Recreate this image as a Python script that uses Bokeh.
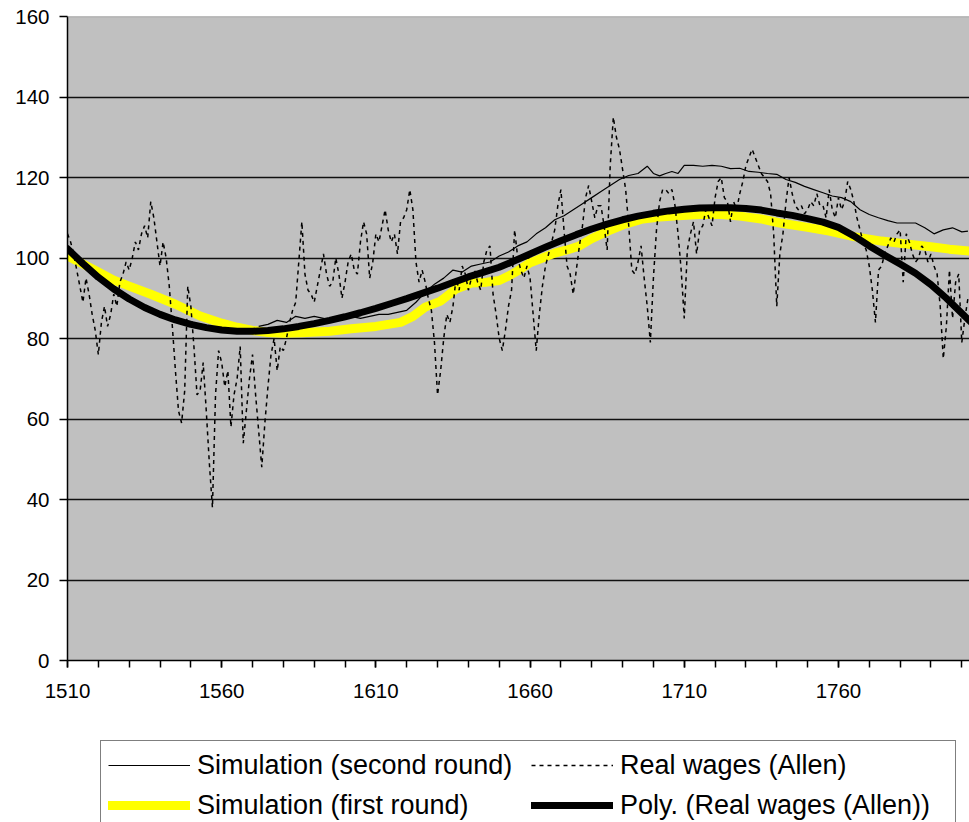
from bokeh.plotting import figure
from bokeh.layouts import column
from bokeh.models import FixedTicker, Legend, LegendItem, Span, Range1d
from bokeh.embed import file_html
from bokeh.resources import INLINE

# ---------------- data ----------------
wage_years = list(range(1510, 1803))
real_wages = [
    106, 104, 101, 97, 93, 89, 95, 91, 86, 82,
    76, 84, 88, 83, 86, 91, 88, 94, 96, 99,
    97, 100, 104, 102, 106, 108, 105, 114, 110, 104,
    98, 104, 100, 93, 83, 72, 62, 59, 67, 93,
    88, 78, 66, 67, 74, 62, 49, 38, 66, 77,
    74, 68, 72, 58, 66, 70, 78, 54, 62, 70,
    76, 66, 57, 48, 59, 68, 76, 80, 72, 78,
    77, 80, 84, 87, 89, 99, 109, 96, 92, 91,
    89, 93, 97, 101, 96, 93, 94, 100, 96, 90,
    94, 99, 101, 97, 96, 104, 109, 106, 95, 99,
    106, 104, 108, 112, 107, 104, 106, 101, 109, 110,
    112, 117, 112, 99, 94, 97, 94, 90, 87, 79,
    66, 72, 80, 86, 84, 88, 95, 92, 98, 96,
    92, 95, 97, 94, 92, 99, 102, 103, 91, 86,
    80, 77, 82, 88, 92, 107, 100, 97, 95, 98,
    95, 86, 77, 86, 93, 98, 101, 104, 107, 113,
    117, 107, 98, 96, 91, 97, 103, 108, 115, 118,
    114, 110, 113, 113, 108, 102, 123, 135, 130, 127,
    122, 117, 108, 97, 96, 99, 103, 95, 88, 79,
    95, 107, 114, 117, 117, 116, 117, 113, 106, 97,
    85, 102, 106, 109, 101, 107, 108, 112, 110, 108,
    115, 119, 120, 115, 114, 109, 114, 112, 116, 119,
    123, 125, 127, 125, 123, 121, 120, 119, 116, 106,
    88, 101, 106, 114, 120, 116, 113, 112, 113, 111,
    112, 114, 113, 116, 113, 113, 110, 117, 112, 110,
    115, 112, 114, 119, 117, 114, 110, 107, 104, 102,
    98, 92, 84, 97, 98, 101, 103, 105, 104, 106,
    107, 94, 106, 104, 101, 99, 100, 103, 102, 99,
    101, 98, 96, 88, 75, 83, 97, 85, 94, 96,
    79, 85, 90,
]

first_years = [1510, 1515, 1520, 1525, 1530, 1537, 1545, 1553, 1560, 1565,
               1570, 1575, 1580, 1586, 1595, 1602, 1610, 1618, 1622, 1626,
               1631, 1636, 1641, 1646, 1650, 1653, 1656, 1660, 1664, 1668,
               1672, 1676, 1680, 1685, 1690, 1696, 1702, 1708, 1715, 1722,
               1728, 1735, 1741, 1750, 1757, 1765, 1774, 1782, 1790, 1796, 1803]
sim_first = [100.5, 98.5, 96.5, 94.5, 93, 91, 88.5, 85.6, 83.8, 82.8,
             82, 81.5, 81.3, 81.4, 81.8, 82.4, 83, 84, 85.5, 87.8,
             89.3, 92.3, 93.8, 94, 94.4, 95.5, 96.8, 98.8, 100, 101.2,
             102, 103, 104.8, 106.6, 108.2, 109.6, 110.2, 110.5, 110.8, 110.8,
             110.4, 109.7, 108.7, 107.6, 106.7, 105.3, 104.2, 103.5, 102.8, 102.2, 101.7]

second_years = [1572, 1575, 1578, 1581, 1584, 1587, 1590, 1593, 1596, 1599,
                1602, 1605, 1608, 1611, 1614, 1617, 1620, 1623, 1626, 1629,
                1632, 1635, 1638, 1641, 1644, 1647, 1650, 1653, 1656, 1659,
                1662, 1665, 1668, 1671, 1674, 1677, 1680, 1683, 1686, 1689,
                1692, 1695, 1698, 1700, 1702, 1704, 1706, 1708, 1710, 1713,
                1716, 1719, 1722, 1725, 1728, 1731, 1734, 1737, 1740, 1743,
                1746, 1749, 1752, 1755, 1758, 1761, 1764, 1767, 1770, 1773,
                1776, 1779, 1782, 1785, 1788, 1791, 1794, 1797, 1800, 1802]
sim_second = [83, 83.5, 84.5, 84, 85.5, 85, 85.5, 85, 84.5, 85,
              85.5, 85, 85.5, 86, 86, 86.5, 87, 89, 91.5, 93.5,
              95, 97, 96.5, 98, 98.5, 99, 100.5, 101.5, 103, 104,
              106, 107.5, 109.5, 110.5, 112, 113.5, 115, 116.5, 118, 119.5,
              120.5, 121, 122.8, 121, 120.4, 121, 121.5, 121, 123, 123,
              122.8, 123, 122.8, 122.2, 122.3, 121.5, 121.3, 121, 120.8, 119.5,
              118.8, 117.8, 117, 116.2, 115.4, 115, 114, 112, 110.8, 110,
              109.3, 108.7, 108.7, 108.7, 107.5, 106, 107, 107.5, 106.5, 106.7]

poly_years = [1510, 1515, 1520, 1525, 1530, 1535, 1540, 1545, 1550, 1555,
              1560, 1565, 1570, 1575, 1580, 1585, 1590, 1595, 1600, 1605,
              1610, 1615, 1620, 1625, 1630, 1635, 1640, 1645, 1650, 1655,
              1660, 1665, 1670, 1675, 1680, 1685, 1690, 1695, 1700, 1705,
              1710, 1715, 1720, 1725, 1730, 1735, 1740, 1745, 1750, 1755,
              1760, 1765, 1770, 1775, 1780, 1785, 1790, 1795, 1800, 1803]
poly_vals = [102.3, 98.6, 95.2, 92.3, 89.8, 87.7, 86, 84.6, 83.5, 82.7,
             82.1, 81.8, 81.8, 82, 82.4, 83, 83.7, 84.5, 85.4, 86.4,
             87.5, 88.7, 89.9, 91.2, 92.5, 93.9, 95.3, 96.5, 97.7, 99.3,
             101, 102.7, 104.3, 105.8, 107.2, 108.4, 109.5, 110.4, 111.1, 111.7,
             112.1, 112.4, 112.5, 112.5, 112.3, 111.9, 111.2, 110.6, 109.8, 108.9,
             107.6, 105.5, 103, 100.7, 98.5, 96.2, 93.4, 90, 86.3, 84]

y_ticks = [0, 20, 40, 60, 80, 100, 120, 140, 160]
x_label_ticks = [1510, 1560, 1610, 1660, 1710, 1760]
x_minor_ticks = list(range(1510, 1801, 10))

labels = ["Simulation (second round)", "Simulation (first round)",
          "Real wages (Allen)", "Poly. (Real wages (Allen))"]

FONT = "Liberation Sans"

# ---------------- main chart ----------------
p = figure(frame_width=902, frame_height=644,
           x_range=Range1d(1510, 1802.5), y_range=Range1d(0, 160),
           output_backend="svg", toolbar_location=None,
           min_border_left=67, min_border_right=0, min_border_top=16, min_border_bottom=50)
p.background_fill_color = "#C0C0C0"
p.border_fill_color = "white"
p.outline_line_color = None

p.xgrid.visible = False
p.ygrid.ticker = FixedTicker(ticks=y_ticks[1:-1])
p.ygrid.grid_line_color = "#111111"
p.ygrid.grid_line_width = 1.5
p.add_layout(Span(location=160, dimension="width", line_color="#9a9a9a", line_width=1.5))

p.xaxis.ticker = FixedTicker(ticks=x_label_ticks, minor_ticks=x_minor_ticks)
p.yaxis.ticker = FixedTicker(ticks=y_ticks, minor_ticks=[])
for ax in (p.xaxis, p.yaxis):
    ax.axis_line_color = "black"
    ax.axis_line_width = 1.5
    ax.major_tick_line_color = "black"
    ax.major_tick_line_width = 1.5
    ax.major_tick_in = 0
    ax.minor_tick_in = 0
    ax.major_label_text_font = FONT
    ax.major_label_text_font_size = "20.5px"
    ax.major_label_text_color = "black"
p.xaxis.major_tick_out = 7
p.xaxis.minor_tick_out = 7
p.xaxis.minor_tick_line_color = "black"
p.xaxis.minor_tick_line_width = 1.5
p.xaxis.major_label_standoff = 16
p.yaxis.major_tick_out = 8
p.yaxis.minor_tick_line_color = None
p.yaxis.major_label_standoff = 10

YELLOW = dict(line_color="#FFFF00", line_width=9, line_join="round", line_cap="round")
POLY = dict(line_color="black", line_width=7, line_join="round", line_cap="round")
WAGE = dict(line_color="black", line_width=1.5, line_dash="4 4")
SECOND = dict(line_color="black", line_width=1.2)

p.line(first_years, sim_first, **YELLOW)
p.line(poly_years, poly_vals, **POLY)
p.line(wage_years, real_wages, **WAGE)
p.line(second_years, sim_second, **SECOND)

# ---------------- legend strip ----------------
# same series, kept out of this strip's visible range; only their legend keys show
q = figure(width=969, height=112, x_range=Range1d(1510, 1802.5), y_range=Range1d(1000, 1001),
           output_backend="svg", toolbar_location=None,
           x_axis_location=None, y_axis_location=None,
           min_border_left=0, min_border_right=0, min_border_top=0, min_border_bottom=0)
q.grid.visible = False
q.outline_line_color = None
q.background_fill_color = "white"
q.border_fill_color = "white"

g_second = q.line(second_years, sim_second, **SECOND)
g_first = q.line(first_years, sim_first, **YELLOW)
g_wage = q.line(wage_years, real_wages, **WAGE)
g_poly = q.line(poly_years, poly_vals, **POLY)

legend = Legend(items=[
    LegendItem(label=labels[0], renderers=[g_second]),
    LegendItem(label=labels[1], renderers=[g_first]),
    LegendItem(label=labels[2], renderers=[g_wage]),
    LegendItem(label=labels[3], renderers=[g_poly]),
], location=(33, -8), orientation="vertical", nrows=2, ncols=2,
    label_text_font=FONT, label_text_font_size="27px", label_text_color="black",
    glyph_width=82, glyph_height=34, label_height=34, label_width=328,
    label_standoff=7, spacing=6, padding=7, margin=0,
    border_line_color="black", border_line_width=1.5,
    background_fill_color="white", background_fill_alpha=1.0)
q.add_layout(legend, "center")

open("out.html", "w").write(file_html(column(p, q, spacing=0), INLINE))
